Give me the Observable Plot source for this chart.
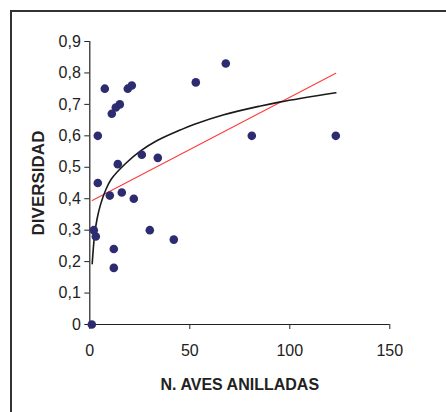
<!DOCTYPE html>
<html>
<head>
<meta charset="utf-8">
<script src="https://cdn.jsdelivr.net/npm/d3@7"></script>
<script src="https://cdn.jsdelivr.net/npm/@observablehq/plot@0.6"></script>
<style>
  html, body { margin: 0; padding: 0; background: #fff; overflow: hidden; }
  #wrap { position: relative; width: 446px; height: 412px; overflow: hidden; }
  #frame { position: absolute; left: 10px; top: 10px; width: 600px; height: 600px; border: 2px solid #333; box-sizing: border-box; pointer-events: none; }
</style>
</head>
<body>
<div id="wrap"><div id="frame"></div></div>
<script>
// Scatter data: number of ringed birds vs diversity
const aves =      [1, 2, 3, 4, 4, 7.5, 10, 11, 12, 12, 13, 14, 15, 16, 19, 21, 22, 26, 30, 34, 42, 53, 68, 81, 123];
const diversidad = [0, 0.30, 0.28, 0.60, 0.45, 0.75, 0.41, 0.67, 0.24, 0.18, 0.69, 0.51, 0.70, 0.42, 0.75, 0.76, 0.40, 0.54, 0.30, 0.53, 0.27, 0.77, 0.83, 0.60, 0.60];

// Linear trend line
const linX = [1.2, 123];
const linY = [0.394, 0.799];

// Logarithmic trend line
const logX = [1.2, 2.4, 3.7, 5.4, 7.9, 10.7, 17.9, 25.4, 33.7, 45.4, 52, 67, 85.4, 95.4, 123];
const logY = [0.193, 0.285, 0.338, 0.382, 0.427, 0.462, 0.512, 0.552, 0.585, 0.619, 0.636, 0.667, 0.695, 0.708, 0.737];

const xTicks = [0, 50, 100, 150];
const yTicks = [0, 0.1, 0.2, 0.3, 0.4, 0.5, 0.6, 0.7, 0.8, 0.9];
const xLabel = "N. AVES ANILLADAS";
const yLabel = "DIVERSIDAD";

const pts = aves.map((x, i) => ({x, y: diversidad[i]}));
const lin = linX.map((x, i) => ({x, y: linY[i]}));
const log = logX.map((x, i) => ({x, y: logY[i]}));

const fmt = d => d === 0 ? "0" : d.toFixed(1).replace(".", ",");

const chart = Plot.plot({
  width: 446,
  height: 412,
  marginLeft: 89.3,
  marginRight: 56.7,
  marginTop: 41,
  marginBottom: 88,
  style: {fontFamily: "'Liberation Sans', Arial, sans-serif", fontSize: "16px", color: "#222", background: "transparent"},
  x: {domain: [0, 150]},
  y: {domain: [0, 0.9]},
  marks: [
    Plot.axisX({ticks: xTicks, tickSize: 5, tickPadding: 15, fontSize: 16, label: null, stroke: "#222"}),
    Plot.axisY({ticks: yTicks, tickSize: 5, tickPadding: 4, fontSize: 16, tickFormat: fmt, label: null, stroke: "#222"}),
    Plot.ruleY([0], {x1: 0, x2: 150, stroke: "#222", strokeWidth: 1.2}),
    Plot.ruleX([0], {y1: 0, y2: 0.9, stroke: "#222", strokeWidth: 1.2}),
    Plot.line(lin, {x: "x", y: "y", stroke: "#ff3b3b", strokeWidth: 1.1}),
    Plot.line(log, {x: "x", y: "y", stroke: "#1a1a1a", strokeWidth: 1.6, curve: "catmull-rom"}),
    Plot.dot(pts, {x: "x", y: "y", r: 4.3, fill: "#2e2c70", stroke: "none"}),
    Plot.text([xLabel], {frameAnchor: "bottom", dy: 60, fontSize: 16, fontWeight: "bold", fill: "#222", lineAnchor: "middle", textAnchor: "middle", letterSpacing: -0.3}),
    Plot.text([yLabel], {frameAnchor: "left", dx: -50.8, rotate: -90, fontSize: 17, fontWeight: "bold", fill: "#222", lineAnchor: "middle", textAnchor: "middle"})
  ]
});
document.getElementById("wrap").insertBefore(chart, document.getElementById("frame"));
chart.style.position = "absolute";
chart.style.left = "0";
chart.style.top = "0";
</script>
</body>
</html>
